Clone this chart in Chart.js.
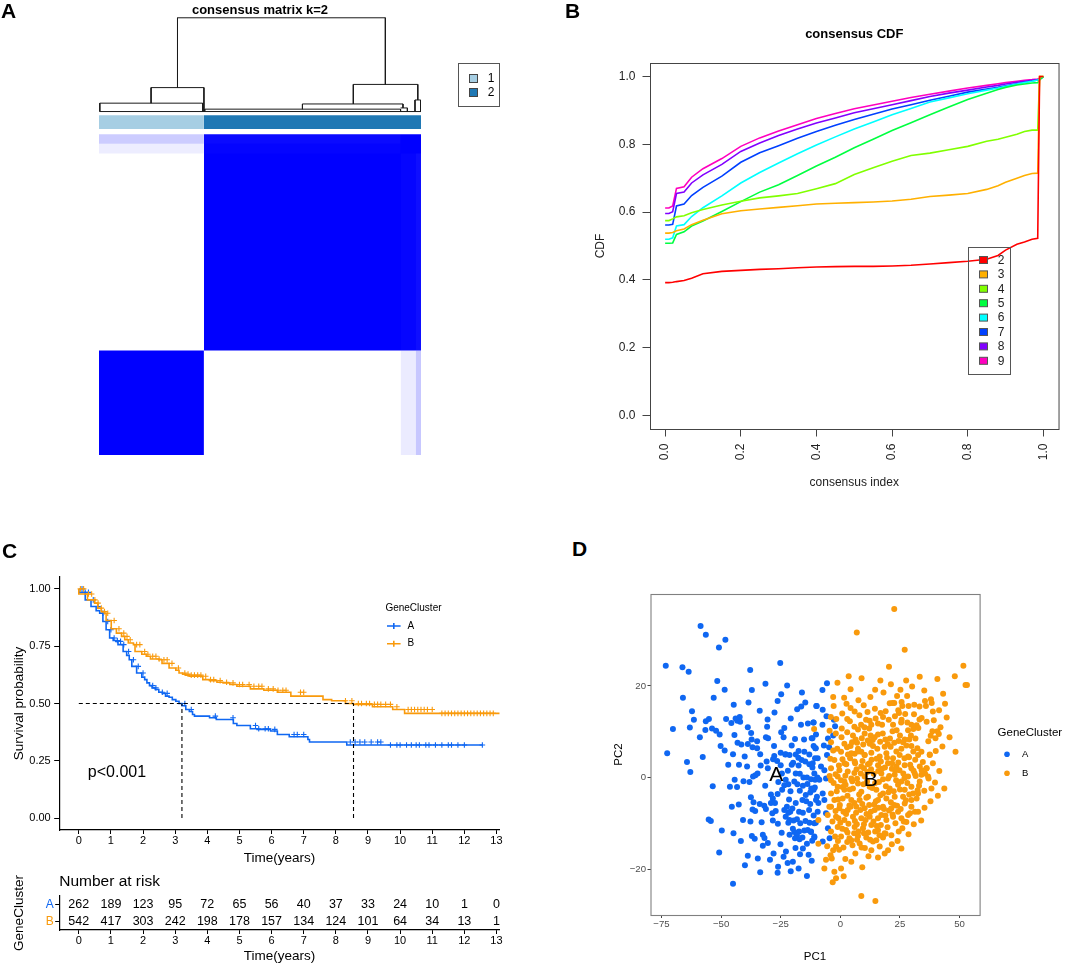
<!DOCTYPE html>
<html>
<head>
<meta charset="utf-8">
<title>Gene clusters</title>
<script src="https://cdn.jsdelivr.net/npm/chart.js@4.4.1/dist/chart.umd.min.js"></script>
<style>
  html, body { margin: 0; padding: 0; background: #fff; }
  #figure { position: relative; width: 1065px; height: 964px; overflow: hidden; font-family: "Liberation Sans", Arial, sans-serif; }
  .panel { position: absolute; }
  .panel canvas { display: block; }
  .tag { position: absolute; font-weight: bold; font-size: 21px; line-height: 21px; color: #000; }
</style>
</head>
<body>
<div id="figure">
  <div class="panel" style="left:0;top:0;width:530px;height:470px"><canvas id="heat"></canvas></div>
  <div class="panel" style="left:530px;top:0;width:535px;height:490px"><canvas id="cdf"></canvas></div>
  <div class="panel" style="left:0;top:560px;width:530px;height:306px"><canvas id="km"></canvas></div>
  <div class="panel" style="left:0;top:868px;width:530px;height:96px"><canvas id="risk"></canvas></div>
  <div class="panel" style="left:540px;top:560px;width:525px;height:404px"><canvas id="pca"></canvas></div>
  <div class="tag" style="left:1px;top:0px">A</div>
  <div class="tag" style="left:565px;top:0px">B</div>
  <div class="tag" style="left:2px;top:540px">C</div>
  <div class="tag" style="left:572px;top:538px">D</div>
</div>
<script>
const FONT = '"Liberation Sans", Arial, sans-serif';
Chart.defaults.font.family = FONT;
Chart.defaults.color = '#000';
Chart.defaults.animation = false;
Chart.defaults.plugins.legend.display = false;
Chart.defaults.plugins.tooltip.enabled = false;

// ---- A : consensus matrix k=2
const clusterNames = ['1', '2'];
const clusterSizes = [262, 542];
const clusterColours = ['#a6cee3', '#1f78b4'];
// samples of cluster 2 that still share some consensus with cluster 1 : [from, to, consensus]
const fuzzyCols = [[753, 790, 0.08], [790, 804, 0.22]];
const fuzzyRows = [[756, 780, 0.07], [780, 804, 0.2]];
// dendrogram branches [x0, h0, x1, h1]
const dendroSegments = [
  [196,1096,715,1096],[196,1096,196,921],[715,1096,715,929],
  [130,921,262,921],[130,921,130,882],[262,921,262,861],
  [2,882,259,882],[2,882,2,861],[259,882,259,861],[2,861,804,861],
  [635,929,796,929],[635,929,635,880],[796,929,796,890],
  [789,890,803,890],[789,890,789,861],[803,890,803,861],
  [508,880,759,880],[508,880,508,867],[759,880,759,870],
  [264,867,753,867],[264,867,264,861],[753,867,753,861],
  [753,870,770,870],[770,870,770,861]
];

// ---- B : consensus CDF
const cdfKs = [2, 3, 4, 5, 6, 7, 8, 9];
const cdfColours = ['#ff0000', '#ffb000', '#80ff00', '#00ff40', '#00ffff', '#0040ff', '#8000ff', '#ff00bf'];
const cdfIndex = [0, 0.01, 0.02, 0.03, 0.05, 0.07, 0.1, 0.15, 0.2, 0.25, 0.3, 0.35, 0.4, 0.45, 0.5, 0.55, 0.6, 0.65, 0.7, 0.75, 0.8, 0.85, 0.88, 0.9, 0.93, 0.95, 0.97, 0.985, 0.99, 1.0];
const cdfK2 = [.392,.392,.393,.395,.398,.405,.418,.425,.428,.431,.433,.436,.438,.439,.440,.440,.441,.443,.447,.451,.455,.461,.472,.488,.505,.512,.520,.523,1,1];
const cdfK3 = [.538,.538,.540,.545,.550,.563,.576,.595,.604,.609,.614,.619,.624,.626,.628,.630,.633,.638,.646,.650,.655,.667,.678,.688,.700,.708,.714,.715,1,1];
const cdfK4 = [.575,.575,.580,.586,.589,.598,.608,.621,.632,.642,.648,.655,.669,.684,.711,.731,.750,.767,.774,.784,.794,.809,.815,.821,.830,.838,.842,.842,1,1];
const cdfK5 = [.508,.508,.509,.534,.542,.559,.574,.602,.631,.659,.681,.708,.736,.762,.790,.815,.841,.864,.887,.910,.932,.951,.962,.968,.975,.978,.981,.982,.990,1];
const cdfK6 = [.520,.520,.524,.559,.563,.587,.613,.648,.686,.717,.745,.772,.798,.822,.845,.866,.887,.906,.925,.937,.949,.960,.966,.971,.978,.982,.986,.990,.992,1];
const cdfK7 = [.562,.562,.564,.618,.624,.649,.673,.706,.747,.775,.796,.818,.838,.856,.873,.889,.904,.917,.930,.942,.954,.963,.968,.973,.979,.983,.987,.990,.992,1];
const cdfK8 = [.596,.596,.601,.655,.659,.686,.710,.741,.779,.804,.826,.845,.863,.878,.893,.905,.917,.929,.941,.951,.960,.969,.974,.978,.983,.986,.989,.991,.993,1];
const cdfK9 = [.612,.612,.618,.670,.675,.703,.728,.758,.794,.819,.839,.858,.876,.891,.905,.916,.927,.938,.948,.957,.966,.974,.979,.982,.986,.989,.991,.993,.995,1];
const cdfValues = [cdfK2, cdfK3, cdfK4, cdfK5, cdfK6, cdfK7, cdfK8, cdfK9];
const cdfTicks = [0, 0.2, 0.4, 0.6, 0.8, 1.0];

// ---- C : survival by gene cluster
const groups = ['A', 'B'];
const groupColours = ['#0f67f2', '#f99a0c'];
const stepsA = [[0,1],[0.2,0.985],[0.38,0.952],[0.54,0.923],[0.65,0.905],[0.75,0.894],[0.85,0.858],[0.96,0.822],[1.07,0.786],[1.15,0.775],[1.22,0.771],[1.38,0.757],[1.49,0.727],[1.57,0.71],[1.65,0.691],[1.8,0.662],[1.96,0.633],[2.05,0.615],[2.12,0.604],[2.2,0.59],[2.28,0.578],[2.38,0.568],[2.49,0.561],[2.6,0.549],[2.7,0.544],[2.81,0.532],[2.91,0.527],[3.02,0.517],[3.12,0.51],[3.21,0.5],[3.33,0.49],[3.44,0.474],[3.54,0.465],[3.6,0.452],[4.07,0.445],[4.28,0.438],[4.81,0.43],[4.92,0.413],[5.34,0.404],[5.55,0.39],[5.97,0.387],[6.18,0.38],[6.55,0.365],[7.13,0.355],[7.18,0.343],[8.34,0.332],[9.56,0.319],[12.56,0.319]];
const stepsB = [[0,1],[0.27,0.978],[0.49,0.952],[0.59,0.938],[0.7,0.916],[0.8,0.901],[0.85,0.894],[1.01,0.862],[1.17,0.826],[1.33,0.807],[1.43,0.793],[1.54,0.778],[1.7,0.764],[1.75,0.757],[1.96,0.727],[2.1,0.715],[2.23,0.706],[2.49,0.694],[2.59,0.691],[2.81,0.675],[3.02,0.655],[3.12,0.645],[3.23,0.633],[3.33,0.628],[3.44,0.624],[3.86,0.619],[4.07,0.604],[4.3,0.6],[4.49,0.593],[4.7,0.59],[4.92,0.583],[5.34,0.575],[5.76,0.564],[6.18,0.558],[6.6,0.549],[7.6,0.532],[7.87,0.517],[8.3,0.512],[8.55,0.5],[9.14,0.496],[9.77,0.486],[10.14,0.474],[11.12,0.457],[13.1,0.457]];
const censorA = [0.1,0.2,0.3,0.45,0.6,0.75,0.9,1.0,1.1,1.2,1.3,1.4,1.55,1.7,1.85,2.0,2.3,2.4,2.6,2.75,3.3,3.5,4.25,4.8,5.5,5.6,5.8,5.9,6.1,6.7,6.8,7.0,8.45,8.6,8.75,8.9,9.1,9.3,9.4,9.7,9.9,10.0,10.2,10.35,10.5,10.6,10.8,10.9,11.1,11.3,11.5,11.6,11.8,12.0,12.56];
const censorB = [0.05,0.15,0.3,0.4,0.5,0.6,0.7,0.8,0.9,1.1,1.25,1.4,1.5,1.6,1.8,1.9,2.05,2.15,2.3,2.4,2.5,2.65,2.75,2.9,3.1,3.3,3.4,3.5,3.6,3.7,3.8,3.95,4.1,4.2,4.4,4.6,4.8,5.0,5.1,5.3,5.45,5.6,5.7,5.9,6.05,6.2,6.35,6.45,6.9,7.0,8.3,8.5,8.7,8.8,8.95,9.05,9.2,9.3,9.4,9.55,9.7,9.9,10.25,10.35,10.45,10.55,10.65,10.75,10.85,11.0,11.3,11.4,11.5,11.6,11.7,11.8,11.9,12.0,12.1,12.2,12.3,12.4,12.5,12.6,12.7,12.8,12.9];
const medianTimes = [3.21, 8.55];
const pValueText = 'p<0.001';
const riskTimes = [0,1,2,3,4,5,6,7,8,9,10,11,12,13];
const riskA = [262,189,123,95,72,65,56,40,37,33,24,10,1,0];
const riskB = [542,417,303,242,198,178,157,134,124,101,64,34,13,1];
const survTicks = [0, 0.25, 0.5, 0.75, 1];

// ---- D : PCA
const pcaA = [
  [-58.6,33.1],[-56.4,31.2],[-48.2,30.1],[-50.9,28.4],[-73.2,24.4],[-66.2,24.1],[-63.6,23.1],[-25.2,25.0],[-37.8,23.5],[-51.6,21.1],
  [-31.4,20.5],[-22.3,20.1],[-48.5,19.2],[-37.1,19.1],[-16.1,18.6],[-24.8,18.2],[-66.0,17.4],[-53.1,17.4],[-14.7,16.4],[-26.3,16.7],
  [-38.5,16.4],[-44.7,15.9],[-18.1,14.9],[-16.4,15.5],[-10.1,15.6],[-62.2,14.5],[-27.6,14.2],[-61.4,12.6],[-56.4,12.3],[-55.1,12.8],
  [-47.9,12.8],[-45.7,11.9],[-43.9,12.9],[-42.2,13.2],[-43.2,12.4],[-42.0,12.2],[-30.5,12.7],[-30.7,11.1],[-11.3,12.0],[-16.5,11.5],
  [-70.2,10.6],[-63.1,10.9],[-56.6,10.4],[-53.8,10.7],[-52.1,10.2],[-50.6,9.4],[-38.8,11.0],[-37.4,9.7],[-23.5,10.8],[-24.8,9.9],
  [-44.4,9.3],[-31.2,8.8],[-30.3,8.6],[-23.8,8.8],[-19.0,8.4],[-12.0,8.6],[-37.2,8.3],[-43.1,7.6],[-41.5,7.2],[-38.8,7.3],
  [-34.9,7.9],[-36.8,6.6],[-34.9,6.4],[-10.5,6.4],[-48.5,5.9],[-72.6,5.3],[-45.0,5.1],[-33.6,5.1],[-27.7,4.7],[-25.0,5.4],
  [-22.9,5.1],[-18.7,5.0],[-17.5,5.8],[-57.7,4.5],
  [-64.3,3.4],[-62.9,1.2],[-42.5,2.8],[-39.1,2.4],[-53.5,-1.9],[-46.3,-2.0],[-44.3,-0.5],[-43.3,-2.1],[-40.6,-0.8],[-38.1,-1.0],
  [-36.6,0.2],[-35.6,0.5],[-34.7,0.9],[-30.9,3.5],[-30.4,2.0],[-28.2,4.0],[-26.5,3.6],[-25.0,2.7],[-23.1,5.0],[-21.3,4.9],
  [-20.4,2.8],[-17.5,2.6],[-16.2,3.8],[-14.7,3.5],[-13.0,2.9],[-11.7,2.2],[-10.6,4.2],[-18.7,0.9],[-17.0,0.8],[-15.5,0.0],
  [-14.0,0.0],[-12.3,-0.4],[-10.6,-0.5],[-9.6,0.0],[-22.9,-0.5],[-23.5,-1.7],[-21.8,-1.5],[-19.3,-0.9],[-18.0,-1.5],[-15.7,-1.8],
  [-13.8,-1.4],[-12.2,-2.4],[-10.7,-2.2],[-29.1,-3.7],[-28.3,-4.6],[-29.1,-5.6],[-27.4,-5.6],[-27.1,-7.3],[-37.5,-4.3],[-36.4,-5.4],
  [-33.8,-5.8],[-31.9,-6.2],[-31.2,-6.9],[-36.8,-7.0],[-35.7,-7.3],[-42.6,-5.9],[-55.2,-9.2],[-54.3,-9.5],[-40.8,-9.3],[-37.7,-9.6],
  [-49.7,-11.6],[-44.8,-12.2],[-41.7,-13.9],[-37.1,-12.8],[-35.9,-13.4],[-32.5,-12.5],[-31.8,-13.2],[-30.4,-14.3],[-32.5,-14.9],[-38.8,-17.1],
  [-34.6,-17.7],[-29.5,-18.0],[-28.0,-16.6],[-26.1,-19.5],[-26.3,-20.8],[-23.8,-17.3],[-22.8,-16.2],[-22.1,-18.7],[-20.8,-20.5],[-45.0,-23.2],
  [-14.0,-21.5],[-28.5,-7.8],[-28.3,-9.4],[-23.5,-7.1],[-22.4,-6.4],[-21.8,-7.7],[-21.0,-7.5],[-20.1,-6.8],[-22.9,-8.6],[-21.8,-9.9],
  [-21.3,-9.3],[-19.6,-9.4],[-18.2,-9.1],[-19.9,-11.2],[-19.3,-11.9],[-17.3,-11.8],[-18.2,-12.6],[-15.9,-13.1],[-15.1,-11.6],[-13.7,-11.5],
  [-12.3,-11.9],[-21.3,-12.5],[-19.0,-13.3],[-17.1,-13.5],[-15.7,-15.5],[-14.0,-14.5],[-10.9,-13.1],[-21.5,-4.8],[-18.7,-5.6],[-15.9,-4.9],
  [-14.5,-3.8],[-12.6,-3.3],[-11.2,-2.7],[-9.8,-4.2],[-9.2,-5.6],[-17.3,-7.5],[-15.7,-7.7],[-13.1,-7.1],[-11.2,-8.3],[-24.4,-2.7],
  [-26.3,-3.6],[-10.3,-9.9],
  [-5.6,20.6],[-7.5,19.1],[-9.9,15.6],[-7.4,14.8],[-5.8,13.4],[-11.2,12.0],[-7.5,11.5],[-2.2,11.2],[-2.7,12.6],[-10.2,9.4],
  [-11.7,8.6],[-5.2,8.5],[-6.9,7.0],[-10.3,6.4],[-4.7,6.6],[-3.0,9.2],[-5.6,4.9],
  [-11.6,3.1],[-9.5,4.2],[-8.1,2.4],[-10.9,0.9],[-6.7,1.6],[-8.8,-0.5],[-6.0,-0.2],[-7.4,-3.5],[-10.2,-4.9],[-6.7,-4.9],
  [-9.5,-7.5],[-6.0,-7.8],[-10.9,-10.0],[-12.3,-11.8],[-5.2,-11.1],[-7.4,-14.0],[-10.9,-12.9],[-4.5,-13.3],
  [-26.0,-1.0],[-24.5,0.9],[-22.0,1.5],[-19.8,3.2],[-17.6,4.3],[-15.1,5.6],[-13.0,5.0],[-11.2,6.9],[-20.9,-3.0],[-17.0,-2.9],
  [-14.3,-5.2],[-12.6,-5.8],[-16.8,-10.0],[-14.6,-9.5],[-12.9,-9.9],[-11.8,-13.8],[-13.3,-16.9],[-16.9,-16.8],[-18.8,-15.4],[-24.6,-12.1],
  [-26.2,-10.1],[-25.1,-14.6],[-33.0,-9.8],[-31.5,-1.8],[-33.4,2.6],[-27.8,6.9],[-20.4,7.0],[-15.2,8.3],[-13.6,11.8],[-20.8,12.9],
  [-33.8,14.6],[-40.1,4.6],[-47.0,2.8],[-50.2,6.9],[-58.9,8.8],[-45.5,-6.4],[-50.8,-16.4],[-40.0,-19.2],[-33.6,-20.7],[-19.9,-18.4],
  [-17.5,-19.9],[-12.0,-18.2]
];
const pcaB = [
  [22.6,36.8],[6.9,31.7],[27.0,27.9],[20.4,24.2],[51.6,24.4],[52.5,20.2],[53.1,20.2],[48.0,22.1],[40.7,21.5],[33.3,22.0],
  [16.8,21.2],[8.9,21.7],[-1.2,20.7],[4.3,19.3],[25.2,19.2],[43.1,18.3],[1.6,17.4],[7.6,16.9],[2.6,16.1],[4.3,15.2],
  [6.0,14.4],[23.8,17.8],[25.7,16.5],[20.7,16.2],[21.8,16.3],[22.6,16.3],[28.6,15.6],[26.0,15.6],[24.3,14.7],[24.6,14.1],
  [35.5,16.7],[38.0,17.1],[38.3,16.3],[35.9,15.6],[33.2,15.5],[43.9,16.1],[14.5,15.0],[16.9,14.1],[17.9,13.2],[12.3,12.4],
  [10.8,12.6],[13.0,11.5],[15.8,11.8],[17.5,11.5],[20.3,12.6],[22.1,11.5],[25.5,12.0],[25.7,12.6],[28.1,12.0],[29.8,11.5],
  [32.0,11.4],[33.2,12.7],[34.1,13.0],[30.6,10.6],[32.7,10.8],[38.6,10.1],[40.7,10.1],[37.9,9.1],[39.9,8.6],[41.3,9.5],
  [36.9,7.9],[48.3,5.6],[-4.0,13.2],[-1.7,12.8],[0.6,10.7],[5.9,11.1],[8.7,11.5],[10.1,11.0],[12.1,10.7],[7.4,10.5],
  [5.3,9.2],[6.4,8.3],[9.0,8.6],[10.2,9.6],[12.7,9.2],[14.4,8.8],[15.8,9.4],[17.8,9.6],[18.9,8.3],[20.8,8.5],
  [21.9,10.1],[23.6,10.3],[25.0,9.2],[27.0,8.3],[28.4,10.3],[29.6,9.2],[31.5,8.5],[1.7,7.4],[4.3,6.9],[7.4,6.3],
  [8.8,5.6],[10.2,4.9],[12.3,7.4],[13.7,6.9],[15.5,6.3],[18.6,6.7],[21.1,6.7],[23.5,5.7],[25.6,6.3],[27.7,7.0],
  [29.8,6.9],[32.3,6.4],[30.6,5.7],[34.0,5.6],[37.5,5.0],[-3.9,7.7],[-1.3,6.3],[0.3,5.6],[3.2,5.0],[6.0,5.2],
  [4.6,5.3],[7.4,5.7],[10.2,4.9],[13.0,5.4],[16.5,4.6],[19.3,5.3],[22.1,4.2],[24.9,4.9],[28.4,4.6],[32.6,4.9],
  [37.5,4.9],[1.7,3.1],[6.0,3.5],[8.8,2.4],[12.3,3.1],[15.8,2.7],[20.0,3.1],[23.5,2.4],[27.0,2.7],[29.8,2.0],
  [33.3,2.4],[36.1,2.0],[-2.5,3.8],[-3.9,2.0],[-0.4,1.6],[3.1,1.3],[-3.9,-0.6],[-1.1,0.2],[1.7,-0.9],[4.6,-0.2],
  [7.4,-1.3],[10.2,0.2],[17.2,0.9],[20.0,-0.2],[22.8,0.6],[25.6,-0.9],[28.4,0.2],[31.2,0.9],[34.0,0.6],[36.8,0.2],
  [33.3,-0.9],[29.8,-2.0],[27.0,-2.7],[24.2,-1.6],[20.7,-2.4],[17.9,-3.5],[15.1,-2.7],[12.3,-2.0],[8.8,-3.1],[5.3,-2.4],
  [1.7,-2.7],[-1.1,-2.0],[-3.9,-3.5],[-2.5,-4.9],[1.0,-4.6],[4.6,-4.9],[8.1,-4.9],[11.6,-4.2],[15.8,-4.9],[19.3,-4.6],
  [22.8,-4.2],[26.3,-4.2],[29.8,-4.9],[32.6,-3.5],[43.6,-2.4],[38.2,-2.4],[-3.9,-6.4],[-0.4,-6.7],[3.1,-7.1],[6.7,-6.4],
  [10.2,-6.7],[14.4,-7.1],[17.9,-6.4],[21.4,-6.7],[24.2,-7.5],[27.0,-5.7],[29.8,-6.4],[32.6,-7.5],[28.4,-8.2],[25.6,-8.9],
  [22.1,-8.6],[19.3,-9.3],[15.8,-8.9],[12.3,-8.6],[8.8,-8.9],[5.3,-8.6],[1.7,-9.3],[-1.8,-8.6],[-5.3,-8.2],[-1.1,-10.8],
  [2.4,-11.5],[6.0,-10.8],[9.5,-11.1],[13.0,-10.4],[15.8,-11.5],[18.6,-12.2],[21.4,-12.6],[24.5,-11.8],[27.7,-9.7],[-3.9,-11.8],
  [0.3,-12.9],[3.8,-13.3],[7.4,-12.8],[10.9,-13.1],[15.1,-13.7],[17.9,-13.1],[8.1,-14.4],[4.6,-13.7],[-1.8,-15.1],[13.7,-14.0],
  [16.5,-15.1],[20.0,-15.9],[25.6,-15.5],[-6.0,-18.0],[-3.6,-17.7],[-6.7,-19.9],[-2.5,-20.6],[0.3,-19.9],[4.6,-18.4],[18.6,-16.6],
  [15.8,-17.5],[-1.8,-22.0],[8.8,-25.9],[14.7,-27.0],
  [-4.2,4.1],[-2.8,-1.2],[-1.5,-3.0],[-0.2,-6.0],[0.9,-2.1],[2.1,0.4],[3.0,-4.0],[3.8,-6.1],[5.0,-0.8],[5.9,-5.6],
  [6.8,1.8],[7.9,-3.7],[8.4,-7.1],[9.7,-1.5],[10.9,-4.4],[11.3,1.2],[12.1,-6.0],[13.4,-2.3],[14.0,0.8],[14.9,-5.2],
  [16.2,-1.0],[16.8,-3.9],[17.5,1.9],[18.3,-6.9],[19.1,-1.9],[20.5,0.3],[21.2,-5.4],[22.4,-3.0],[23.0,1.5],[23.8,-6.2],
  [25.0,-2.6],[26.4,0.9],[27.5,-5.0],[28.1,-1.2],[29.3,2.8],[30.5,-3.5],[31.6,0.3],[33.0,-1.8],[34.6,3.4],[35.2,-2.9],
  [2.5,2.9],[4.1,4.2],[6.2,3.1],[9.3,3.6],[11.6,2.9],[13.1,3.9],[15.2,4.1],[17.0,3.5],[19.6,4.3],[21.7,3.1],
  [24.3,3.3],[26.9,4.2],[28.8,4.4],[31.4,3.9],[-0.8,-8.9],[1.3,-7.5],[3.4,-10.1],[6.1,-9.5],[7.6,-11.8],[9.9,-10.2],
  [11.0,-8.0],[13.9,-9.6],[15.3,-10.6],[17.2,-8.2],[19.8,-10.9],[21.9,-8.1],[23.1,-10.0],[26.0,-11.1],[-2.2,-12.9],[0.8,-11.2],
  [2.9,-14.1],[5.8,-12.2],[8.9,-15.3],[11.7,-12.0],[13.0,-15.9],[16.4,-12.6],[-4.6,-6.4],[-3.3,-9.6],[-5.5,-15.0],[-4.1,-17.0],
  [35.5,0.9],[37.0,-0.2],[36.2,2.0],[34.1,1.6],[32.0,-4.6],[31.3,-7.5],[29.2,-7.8],[-11.0,10.6],[-9.2,-9.3],[-9.2,-14.5],
  [0.5,8.8],[2.9,9.9],[4.0,12.3],[8.0,13.6],[11.4,14.3],[14.8,12.9],[19.0,14.5],[22.9,13.4],[27.2,13.9],[30.9,13.8],
  [36.2,12.2],[39.2,12.5],[42.0,11.0],[44.6,13.1],[45.8,8.8],[42.8,6.8],[40.0,5.8],[38.8,3.1],[41.5,1.4],[39.7,-1.1],
  [40.9,-4.0],[37.8,-5.2],[35.3,-6.6],[33.9,-9.4],[30.8,-10.2],[28.6,-12.4],[24.0,-13.9],[21.6,-14.6],[11.8,-17.2],[9.2,-19.6],
  [6.3,-16.6],[2.1,-17.8],[-0.5,-15.8],[1.4,-21.6],[-3.2,-22.9],
  [-2.0,0.7],[-0.6,2.6],[0.9,4.0],[2.8,6.6],[4.9,7.7],[7.0,7.6],[9.6,7.2],[11.5,8.1],[13.6,8.2],[16.7,7.8],
  [19.9,7.3],[22.6,7.6],[24.4,8.0],[26.3,7.7],[28.9,8.3],[-1.9,9.6],[-0.9,-4.8],[0.3,-0.6],[2.2,-1.6],[3.9,-2.6],
  [5.9,1.0],[7.0,-0.3],[8.6,0.9],[9.9,2.0],[11.2,-0.9],[12.9,1.8],[14.6,-1.2],[15.9,1.4],[17.9,-0.4],[18.7,2.2],
  [20.2,-3.2],[21.6,1.9],[23.4,-0.6],[24.8,1.6],[26.9,-0.1],[28.9,-3.7],[30.7,1.5],[32.4,-2.8],[-2.0,-7.3],[0.0,-9.9],
  [2.4,-8.0],[4.3,-6.4],[6.6,-7.7],[9.2,-5.8],[10.6,-9.3],[12.8,-7.5],[14.2,-5.9],[16.0,-6.6],[18.9,-8.3],[20.4,-7.2],
  [22.6,-6.0],[25.3,-6.9],[26.6,-9.6],[3.0,-12.0],[5.1,-14.8],[7.0,-13.6],[9.9,-12.2],[12.5,-13.6],[14.6,-11.8],[17.0,-10.4],
  [19.0,-12.3],[-1.0,-13.9],[-3.0,-15.9],[1.3,-15.3],[10.3,-15.4],[6.9,-10.2],[-4.5,0.3],[-3.0,5.9],[-4.5,10.2],[-2.8,15.6],
  [0.8,14.0],[2.9,12.8],[9.8,15.8],[12.6,17.6],[18.1,18.6],[21.2,20.4],[28.0,17.8],[31.0,15.9],[30.1,19.9],[35.2,19.0],
  [38.8,14.4],[41.4,14.7],[27.6,21.2],[14.6,19.2],[3.5,22.1],[-3.0,17.6]
];
const pcaCentres = [['A', -26.9, 0.6], ['B', 12.8, -0.5]];
const pcaXTicks = [-75, -50, -25, 0, 25, 50];
const pcaYTicks = [-20, 0, 20];

// helpers
function fixedTicks(values) {
  return function (scale) { scale.ticks = values.map(v => ({ value: v })); };
}
function stackOrder(datasets) {
  datasets.forEach((d, i) => { d.order = -i; });
  return datasets;
}
function survivalAt(steps, t) {
  let s = steps[0][1];
  steps.forEach(p => { if (p[0] <= t) s = p[1]; });
  return s;
}

// ================= A =================
const nTotal = clusterSizes[0] + clusterSizes[1];
const cut = clusterSizes[0];
function rect(x0, x1, y0, y1, colour) {
  return { type: 'line', data: [{ x: x0, y: y1 }, { x: x1, y: y1 }], fill: { value: y0 },
           backgroundColor: colour, borderColor: 'rgba(0,0,0,0)', borderWidth: 0, pointRadius: 0 };
}
const heatSets = [
  rect(0, cut, 0, cut, '#0000ff'),
  rect(cut, nTotal, cut, nTotal, '#0000ff')
];
fuzzyCols.forEach(c => {
  heatSets.push(rect(c[0], c[1], 0, cut, 'rgba(0,0,255,' + c[2] + ')'));
  heatSets.push(rect(c[0], c[1], cut, fuzzyRows[0][0], 'rgba(255,255,255,' + (c[2] * 0.25) + ')'));
});
fuzzyRows.forEach(r => {
  heatSets.push(rect(0, cut, r[0], r[1], 'rgba(0,0,255,' + r[2] + ')'));
  heatSets.push(rect(cut, fuzzyCols[0][0], r[0], r[1], 'rgba(255,255,255,' + (r[2] * 0.2) + ')'));
});
heatSets.push(rect(0, cut, 817, 852, clusterColours[0]));
heatSets.push(rect(cut, nTotal, 817, 852, clusterColours[1]));
dendroSegments.forEach(s => {
  heatSets.push({ type: 'line', data: [{ x: s[0], y: s[1] }, { x: s[2], y: s[3] }],
                  borderColor: '#1a1a1a', borderWidth: 1, pointRadius: 0, fill: false });
});

new Chart(document.getElementById('heat'), {
  type: 'line',
  data: { datasets: stackOrder(heatSets) },
  options: {
    responsive: true, maintainAspectRatio: false,
    layout: { padding: { left: 99, right: 109, top: 16.2, bottom: 15 } },
    scales: {
      x: { type: 'linear', display: false, min: 0, max: nTotal },
      y: { type: 'linear', display: false, min: 0, max: 1100 }
    }
  },
  plugins: [{
    id: 'heatExtras',
    afterDraw(chart) {
      const ctx = chart.ctx, area = chart.chartArea;
      ctx.save();
      ctx.fillStyle = '#000';
      ctx.font = 'bold 13px ' + FONT;
      ctx.textAlign = 'center';
      ctx.textBaseline = 'middle';
      ctx.fillText('consensus matrix k=2', (area.left + area.right) / 2, 10);
      ctx.strokeStyle = '#555';
      ctx.lineWidth = 1;
      ctx.strokeRect(458.5, 63.5, 41, 43);
      ctx.font = '12px ' + FONT;
      clusterNames.forEach((name, i) => {
        const y = 78 + i * 14;
        ctx.fillStyle = clusterColours[i];
        ctx.fillRect(469, y - 4, 8, 8);
        ctx.strokeStyle = '#444';
        ctx.strokeRect(469.5, y - 3.5, 8, 8);
        ctx.fillStyle = '#000';
        ctx.fillText(name, 491, y + 0.5);
      });
      ctx.restore();
    }
  }]
});

// ================= B =================
new Chart(document.getElementById('cdf'), {
  type: 'line',
  data: {
    datasets: cdfKs.map((k, i) => ({
      label: String(k),
      data: cdfIndex.map((x, j) => ({ x: x, y: cdfValues[i][j] })),
      borderColor: cdfColours[i], borderWidth: 1.6, pointRadius: 0, fill: false
    }))
  },
  options: {
    responsive: true, maintainAspectRatio: false,
    layout: { padding: { left: 0, right: 5.5, top: 63, bottom: 0 } },
    scales: {
      x: {
        type: 'linear', min: -0.04, max: 1.04,
        afterBuildTicks: fixedTicks(cdfTicks),
        afterFit(s) { s.height = 61; },
        border: { display: false },
        grid: { drawOnChartArea: false, tickLength: 7.5, color: '#444' },
        ticks: { minRotation: 90, maxRotation: 90, padding: 7, color: '#222', font: { size: 12 }, autoSkip: false,
                 callback: v => v.toFixed(1) },
        title: { display: true, text: 'consensus index', color: '#222', font: { size: 12 }, padding: { top: 2.8, bottom: 0 } }
      },
      y: {
        type: 'linear', min: -0.04, max: 1.04,
        afterBuildTicks: fixedTicks(cdfTicks),
        afterFit(s) { s.width = 120; },
        border: { display: false },
        grid: { drawOnChartArea: false, tickLength: 7.5, color: '#444' },
        ticks: { padding: 7, color: '#222', font: { size: 12 }, autoSkip: false, callback: v => v.toFixed(1) },
        title: { display: true, text: 'CDF', color: '#222', font: { size: 12 }, padding: { top: 63.8, bottom: 0 } }
      }
    }
  },
  plugins: [{
    id: 'cdfExtras',
    afterDraw(chart) {
      const ctx = chart.ctx, area = chart.chartArea;
      ctx.save();
      ctx.strokeStyle = '#444';
      ctx.lineWidth = 1;
      ctx.strokeRect(area.left + 0.5, area.top + 0.5, area.right - area.left, area.bottom - area.top);
      ctx.fillStyle = '#000';
      ctx.font = 'bold 13px ' + FONT;
      ctx.textAlign = 'center';
      ctx.textBaseline = 'middle';
      ctx.fillText('consensus CDF', (area.left + area.right) / 2, 34);
      ctx.strokeStyle = '#555';
      ctx.strokeRect(438.5, 247.5, 42, 127);
      ctx.font = '12px ' + FONT;
      cdfKs.forEach((k, i) => {
        const y = 260 + i * 14.4;
        ctx.fillStyle = cdfColours[i];
        ctx.fillRect(449.5, y - 3.5, 8, 7);
        ctx.strokeStyle = '#555';
        ctx.strokeRect(449.5, y - 3.5, 8, 7);
        ctx.fillStyle = '#222';
        ctx.fillText(String(k), 471, y + 0.5);
      });
      ctx.restore();
    }
  }]
});

// ================= C : Kaplan-Meier =================
const kmSteps = [stepsA, stepsB];
const kmCensor = [censorA, censorB];
const kmSets = [];
[0, 1].forEach(g => {
  kmSets.push({
    label: groups[g],
    data: kmSteps[g].map(p => ({ x: p[0], y: p[1] })),
    stepped: 'after', borderColor: groupColours[g], borderWidth: 1.6, pointRadius: 0, fill: false
  });
  kmSets.push({
    label: groups[g] + ' censored',
    data: kmCensor[g].map(t => ({ x: t, y: survivalAt(kmSteps[g], t) })),
    showLine: false, pointStyle: 'cross', pointRadius: 2.8, pointBorderWidth: 1.1,
    borderColor: groupColours[g], backgroundColor: groupColours[g]
  });
});
const dash = { borderColor: '#000', borderWidth: 1.1, borderDash: [4, 3], pointRadius: 0, fill: false };
kmSets.push(Object.assign({ data: [{ x: 0, y: 0.5 }, { x: medianTimes[1], y: 0.5 }] }, dash));
medianTimes.forEach(m => kmSets.push(Object.assign({ data: [{ x: m, y: 0 }, { x: m, y: 0.5 }] }, dash)));

const kmX = { min: -0.61, max: 13.1 };
new Chart(document.getElementById('km'), {
  type: 'line',
  data: { datasets: stackOrder(kmSets) },
  options: {
    responsive: true, maintainAspectRatio: false,
    layout: { padding: { left: 0, right: 30.3, top: 17, bottom: 0 } },
    scales: {
      x: {
        type: 'linear', min: kmX.min, max: kmX.max,
        afterBuildTicks: fixedTicks(riskTimes),
        afterFit(s) { s.height = 36; },
        border: { display: true, color: '#000', width: 1.2 },
        grid: { drawOnChartArea: false, tickLength: 4, color: '#000' },
        ticks: { padding: 0, color: '#000', font: { size: 11 }, autoSkip: false, maxRotation: 0 },
        title: { display: true, text: 'Time(years)', font: { size: 13.5 }, padding: { top: 2.9, bottom: 0 } }
      },
      y: {
        type: 'linear', min: -0.052, max: 1.052,
        afterBuildTicks: fixedTicks(survTicks),
        afterFit(s) { s.width = 59.2; },
        border: { display: true, color: '#000', width: 1.2 },
        grid: { drawOnChartArea: false, tickLength: 5, color: '#000' },
        ticks: { padding: 3.5, color: '#000', font: { size: 11 }, callback: v => v.toFixed(2) },
        title: { display: true, text: 'Survival probability', font: { size: 13.5 }, padding: { top: 10.8, bottom: 0 } }
      }
    }
  },
  plugins: [{
    id: 'kmExtras',
    afterDraw(chart) {
      const ctx = chart.ctx, x = chart.scales.x, y = chart.scales.y;
      ctx.save();
      ctx.fillStyle = '#000';
      ctx.textBaseline = 'middle';
      ctx.textAlign = 'left';
      ctx.font = '16px ' + FONT;
      ctx.fillText(pValueText, x.getPixelForValue(0.28), y.getPixelForValue(0.2));
      ctx.font = '10px ' + FONT;
      ctx.fillText('GeneCluster', 385.4, 48.3);
      groups.forEach((g, i) => {
        const ly = 66 + i * 17.7;
        ctx.strokeStyle = groupColours[i];
        ctx.lineWidth = 1.6;
        ctx.beginPath();
        ctx.moveTo(387, ly); ctx.lineTo(400.6, ly);
        ctx.moveTo(393.8, ly - 3); ctx.lineTo(393.8, ly + 3);
        ctx.stroke();
        ctx.fillStyle = '#000';
        ctx.fillText(g, 407.4, ly);
      });
      ctx.restore();
    }
  }]
});

// ================= C : number at risk =================
const riskCounts = [riskA, riskB];
new Chart(document.getElementById('risk'), {
  type: 'scatter',
  data: {
    datasets: groups.map((g, i) => ({ label: g, data: riskTimes.map(t => ({ x: t, y: g })), pointRadius: 0, showLine: false }))
  },
  options: {
    responsive: true, maintainAspectRatio: false,
    layout: { padding: { left: 0, right: 30.3, top: 28, bottom: 0 } },
    scales: {
      x: {
        type: 'linear', min: kmX.min, max: kmX.max,
        afterBuildTicks: fixedTicks(riskTimes),
        afterFit(s) { s.height = 34; },
        border: { display: true, color: '#000', width: 1.2 },
        grid: { drawOnChartArea: false, tickLength: 4, color: '#000' },
        ticks: { padding: 0, color: '#000', font: { size: 11 }, autoSkip: false, maxRotation: 0 },
        title: { display: true, text: 'Time(years)', font: { size: 13.5 }, padding: { top: 4.4, bottom: 0 } }
      },
      y: {
        type: 'category', labels: groups, offset: true,
        afterFit(s) { s.width = 59.2; },
        border: { display: true, color: '#000', width: 1.2 },
        grid: { drawOnChartArea: false, tickLength: 4, color: '#000', offset: false },
        ticks: { padding: 1.5, font: { size: 12 }, autoSkip: false, color: c => groupColours[c.index] },
        title: { display: true, text: 'GeneCluster', font: { size: 13.5 }, padding: { top: 10.8, bottom: 0 } }
      }
    }
  },
  plugins: [{
    id: 'riskText',
    afterDatasetsDraw(chart) {
      const ctx = chart.ctx;
      ctx.save();
      ctx.fillStyle = '#000';
      ctx.textBaseline = 'middle';
      ctx.textAlign = 'left';
      ctx.font = '15.5px ' + FONT;
      ctx.fillText('Number at risk', chart.chartArea.left, 14);
      ctx.textAlign = 'center';
      ctx.font = '12.5px ' + FONT;
      chart.data.datasets.forEach((d, i) => {
        chart.getDatasetMeta(i).data.forEach((pt, j) => ctx.fillText(String(riskCounts[i][j]), pt.x, pt.y + 0.5));
      });
      ctx.restore();
    }
  }]
});

// ================= D : PCA =================
const pcaGroups = [pcaA, pcaB];
new Chart(document.getElementById('pca'), {
  type: 'scatter',
  data: {
    datasets: stackOrder(groups.map((g, i) => ({
      label: g,
      data: pcaGroups[i].map(p => ({ x: p[0], y: p[1] })),
      pointRadius: 3, pointBorderWidth: 0, backgroundColor: groupColours[i], borderColor: groupColours[i]
    })))
  },
  options: {
    responsive: true, maintainAspectRatio: false,
    layout: { padding: { left: 0, right: 85.4, top: 34, bottom: 0 } },
    scales: {
      x: {
        type: 'linear', min: -79.6, max: 58.4,
        afterBuildTicks: fixedTicks(pcaXTicks),
        afterFit(s) { s.height = 49; },
        border: { display: false },
        grid: { drawOnChartArea: false, tickLength: 3, color: '#444' },
        ticks: { padding: 1, color: '#4d4d4d', font: { size: 9.6 }, autoSkip: false, maxRotation: 0,
                 callback: v => String(v).replace('-', '\u2212') },
        title: { display: true, text: 'PC1', font: { size: 11.5 }, padding: { top: 16.8, bottom: 0 } }
      },
      y: {
        type: 'linear', min: -30.05, max: 40.1,
        afterBuildTicks: fixedTicks(pcaYTicks),
        afterFit(s) { s.width = 110.5; },
        border: { display: false },
        grid: { drawOnChartArea: false, tickLength: 3, color: '#444' },
        ticks: { padding: 1.5, color: '#4d4d4d', font: { size: 9.6 }, callback: v => String(v).replace('-', '\u2212') },
        title: { display: true, text: 'PC2', font: { size: 11.5 }, padding: { top: 72, bottom: 0 } }
      }
    }
  },
  plugins: [{
    id: 'pcaExtras',
    afterDraw(chart) {
      const ctx = chart.ctx, area = chart.chartArea, x = chart.scales.x, y = chart.scales.y;
      ctx.save();
      ctx.strokeStyle = '#808080';
      ctx.lineWidth = 1.1;
      ctx.strokeRect(area.left + 0.5, area.top + 0.5, area.right - area.left, area.bottom - area.top);
      ctx.fillStyle = '#000';
      ctx.textAlign = 'center';
      ctx.textBaseline = 'middle';
      ctx.font = '21px ' + FONT;
      pcaCentres.forEach(c => ctx.fillText(c[0], x.getPixelForValue(c[1]), y.getPixelForValue(c[2])));
      ctx.textAlign = 'left';
      ctx.font = '11.5px ' + FONT;
      ctx.fillText('GeneCluster', 457.6, 173);
      ctx.font = '9.5px ' + FONT;
      groups.forEach((g, i) => {
        const ly = 194.3 + i * 19;
        ctx.fillStyle = groupColours[i];
        ctx.beginPath();
        ctx.arc(467, ly, 2.8, 0, Math.PI * 2);
        ctx.fill();
        ctx.fillStyle = '#000';
        ctx.fillText(g, 482, ly);
      });
      ctx.restore();
    }
  }]
});
</script>
</body>
</html>
